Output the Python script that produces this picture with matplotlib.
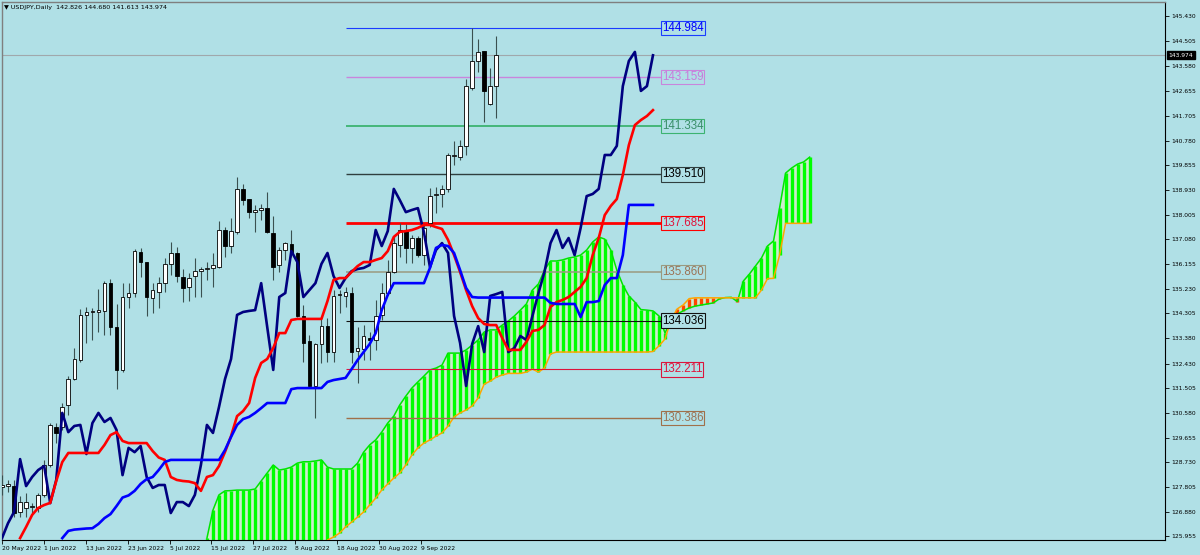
import numpy as np
import matplotlib.pyplot as plt
from matplotlib.transforms import blended_transform_factory

BG = '#b0e0e6'

title_text = "\u25bc USDJPY,Daily  142.826 144.680 141.613 143.974"
last_price = 143.974

# daily candles, oldest first
open_ = [127.80, 127.86, 127.84, 126.87, 127.02, 127.06, 127.02, 127.51, 128.63, 130.05,
         130.05, 130.87, 131.85, 132.56, 134.25, 134.36, 134.36, 134.40, 135.44, 133.80,
         132.19, 134.92, 135.07, 136.61, 136.23, 134.88, 135.11, 135.44, 136.16, 136.57,
         135.67, 135.29, 135.71, 135.89, 135.97, 136.01, 136.04, 137.43, 136.83, 137.35,
         138.97, 138.59, 138.10, 138.18, 138.25, 137.32, 136.12, 136.68, 136.90, 136.57,
         134.21, 133.27, 131.59, 133.16, 133.83, 132.86, 134.99, 134.96, 135.07, 132.90,
         132.97, 133.39, 133.31, 134.25, 135.07, 135.86, 136.87, 137.43, 136.76, 137.13,
         136.49, 137.69, 138.74, 138.78, 138.97, 140.20, 140.16, 140.58, 142.75, 143.76,
         144.13, 142.15, 142.826]
high = [128.25, 128.07, 128.07, 127.47, 127.58, 127.20, 127.58, 128.82, 130.20, 130.20,
        130.95, 131.96, 133.01, 134.47, 134.55, 134.51, 135.22, 135.52, 135.59, 134.66,
        135.44, 135.44, 136.72, 136.76, 136.23, 135.44, 135.67, 136.38, 136.98, 136.79,
        135.97, 135.82, 136.38, 136.04, 136.23, 136.57, 137.77, 137.55, 137.88, 139.41,
        139.15, 138.59, 138.37, 138.40, 138.85, 137.95, 136.79, 136.98, 137.43, 136.61,
        134.62, 133.50, 133.20, 134.17, 134.13, 135.18, 135.18, 135.29, 135.29, 133.80,
        133.87, 133.61, 134.81, 135.44, 136.31, 137.24, 137.69, 137.65, 137.24, 137.20,
        137.69, 139.00, 139.04, 139.12, 140.31, 140.76, 140.80, 143.08, 144.984, 144.58,
        144.13, 143.50, 144.680]
low = [127.50, 127.62, 126.68, 126.68, 126.68, 126.83, 126.87, 127.43, 128.55, 129.45,
       129.94, 130.50, 131.81, 132.49, 133.20, 133.31, 133.61, 133.50, 133.50, 131.47,
       132.11, 134.51, 134.92, 135.67, 134.21, 134.32, 134.51, 135.11, 135.74, 135.48,
       134.73, 134.77, 134.92, 134.92, 135.56, 135.29, 136.01, 136.42, 136.57, 137.28,
       138.37, 137.88, 137.35, 137.80, 137.32, 135.56, 135.86, 136.31, 136.42, 134.17,
       132.49, 131.55, 130.39, 132.45, 132.49, 132.49, 134.32, 134.55, 132.45, 131.70,
       132.56, 132.56, 132.94, 134.06, 134.99, 135.82, 136.42, 136.19, 136.19, 136.42,
       136.12, 137.54, 138.07, 138.29, 138.85, 139.86, 140.05, 140.24, 142.67, 143.35,
       141.47, 142.11, 141.613]
close = [127.88, 127.88, 126.83, 127.24, 127.24, 127.09, 127.51, 128.63, 130.13, 129.83,
         130.80, 131.85, 132.60, 134.25, 134.36, 134.40, 134.43, 135.44, 133.80, 132.19,
         134.92, 135.07, 136.64, 136.23, 134.92, 135.18, 135.44, 136.16, 136.57, 135.71,
         135.26, 135.63, 135.89, 135.97, 136.01, 136.12, 137.43, 136.83, 137.39, 138.97,
         138.55, 138.10, 138.18, 138.25, 137.35, 136.04, 136.68, 136.94, 136.57, 134.21,
         133.20, 131.59, 133.16, 133.83, 132.86, 134.96, 135.03, 135.11, 132.86, 133.01,
         133.46, 133.31, 134.21, 135.07, 135.86, 136.94, 137.43, 136.76, 137.13, 136.49,
         137.51, 138.70, 138.78, 138.97, 140.24, 140.24, 140.58, 142.82, 143.76, 144.10,
         142.64, 142.82, 143.974]

# navy line: closes from before the visible window, then the closes above
navy_pre = [125.89, 126.45, 126.87, 128.85, 127.84, 128.18, 128.44, 128.59, 127.20, 128.07,
            130.58, 129.86, 130.09, 130.13, 129.04, 130.20, 130.58, 130.24, 130.39, 129.94,
            128.25, 129.27, 129.11, 129.34, 128.18, 127.77]

red_start = 3
red_line = [125.89, 126.31, 126.76, 127.02, 127.13, 127.21, 128.03, 128.74, 129.08, 129.08,
            129.08, 129.08, 129.08, 129.08, 129.38, 129.75, 129.86, 129.53, 129.45, 129.45,
            129.45, 129.45, 129.15, 128.91, 128.82, 128.18, 128.07, 128.03, 128.01, 127.95,
            127.66, 128.18, 128.25, 128.59, 129.12, 129.71, 130.46, 130.65, 130.95, 131.89,
            132.45, 132.60, 133.01, 133.57, 133.57, 134.06, 134.10, 134.10, 134.10, 134.10,
            134.10, 134.77, 135.56, 135.63, 135.63, 135.86, 136.08, 136.23, 136.23, 136.31,
            136.38, 136.64, 137.17, 137.36, 137.39, 137.43, 137.51, 137.62, 137.62, 137.54,
            137.47, 137.06, 136.49, 135.86, 135.18, 134.58, 134.13, 133.91, 133.87, 133.87,
            133.38, 132.94, 132.94, 132.94, 133.24, 133.65, 133.69, 133.87, 134.55, 134.73,
            134.81, 134.92, 135.11, 135.30, 135.63, 136.49, 137.13, 137.99, 138.33, 138.59,
            139.49, 140.61, 141.36, 141.55, 141.70, 141.92]

blue_start = 10
blue_line = [125.89, 126.16, 126.21, 126.23, 126.25, 126.26, 126.42, 126.64, 126.79, 127.09,
             127.41, 127.49, 127.66, 127.92, 128.10, 128.18, 128.44, 128.74, 128.82, 128.82,
             128.82, 128.82, 128.82, 128.82, 128.82, 128.82, 128.82, 129.19, 129.68, 130.13,
             130.35, 130.43, 130.58, 130.76, 130.95, 130.95, 130.95, 130.95, 131.47, 131.51,
             131.51, 131.51, 131.51, 131.51, 131.74, 131.81, 131.85, 131.89, 132.22, 132.56,
             132.86, 133.16, 133.57, 134.43, 135.00, 135.44, 135.44, 135.44, 135.44, 135.44,
             135.44, 136.01, 136.76, 136.87, 136.83, 136.57, 135.93, 135.26, 134.92, 134.90,
             134.90, 134.90, 134.90, 134.90, 134.90, 134.90, 134.90, 134.90, 134.90, 134.90,
             134.90, 134.70, 134.66, 134.66, 134.66, 134.66, 134.17, 134.73, 134.73, 134.77,
             135.37, 135.63, 135.63, 136.49, 138.37, 138.37, 138.37, 138.37, 138.37]

cloud_start = 34
span_a = [125.89, 126.94, 127.51, 127.66, 127.67, 127.69, 127.69, 127.69, 127.73, 128.03,
          128.33, 128.63, 128.44, 128.48, 128.55, 128.70, 128.75, 128.75, 128.78, 128.82,
          128.55, 128.48, 128.48, 128.48, 128.48, 128.70, 129.11, 129.38, 129.57, 129.86,
          130.20, 130.46, 130.88, 131.21, 131.51, 131.74, 131.96, 132.19, 132.26, 132.37,
          132.82, 132.82, 132.82, 132.94, 133.12, 133.31, 133.61, 133.69, 133.69, 133.87,
          134.02, 134.21, 134.43, 134.66, 135.18, 135.41, 135.93, 136.27, 136.27, 136.31,
          136.38, 136.42, 136.49, 136.68, 136.98, 137.17, 137.09, 136.68, 135.93, 135.37,
          134.96, 134.73, 134.45, 134.43, 134.40, 134.21, 133.57, 134.06, 134.28, 134.40,
          134.51, 134.58, 134.62, 134.66, 134.70, 134.85, 134.90, 134.91, 134.75, 135.52,
          135.78, 136.08, 136.38, 136.83, 137.02, 138.25, 139.56, 139.75, 139.90, 139.98,
          140.16]
span_b = [125.0, 125.0, 125.0, 125.0, 125.0, 125.0, 125.0, 125.0, 125.0, 125.0,
          125.0, 125.0, 125.0, 125.0, 125.0, 125.0, 125.0, 125.0, 125.0, 125.0,
          125.82, 125.93, 126.08, 126.31, 126.49, 126.68, 126.87, 127.13, 127.39, 127.69,
          127.92, 128.14, 128.33, 128.63, 129.00, 129.27, 129.45, 129.57, 129.71, 129.83,
          130.09, 130.43, 130.58, 130.69, 130.84, 131.14, 131.66, 131.77, 131.92, 132.00,
          132.06, 132.06, 132.06, 132.11, 132.22, 132.11, 132.26, 132.79, 132.86, 132.86,
          132.86, 132.86, 132.86, 132.86, 132.86, 132.86, 132.86, 132.86, 132.86, 132.86,
          132.86, 132.86, 132.86, 132.86, 132.88, 133.09, 133.35, 134.06, 134.47, 134.62,
          134.86, 134.89, 134.89, 134.89, 134.89, 134.89, 134.89, 134.89, 134.89, 134.89,
          134.89, 134.89, 135.18, 135.61, 135.62, 136.49, 137.68, 137.68, 137.68, 137.68,
          137.68]

levels = [144.984, 143.159, 141.334, 139.510, 137.685, 135.860, 134.036, 132.211, 130.386]
level_colors = ['#1a3cff', '#c985dc', '#3cb371', '#2f3f3f', '#ff0000',
                '#9a9a80', '#111111', '#dc143c', '#a0704a']
level_text_colors = ['#0000ff', '#c77ddb', '#3a8f6a', '#000000', '#e0143c',
                     '#9b7356', '#000000', '#e0143c', '#9b7356']
level_widths = [0.8, 1.0, 1.3, 1.0, 2.0, 1.1, 0.8, 0.8, 1.0]

price_ticks = [145.430, 144.505, 143.580, 142.655, 141.705, 140.780, 139.855, 138.930,
               138.005, 137.080, 136.155, 135.230, 134.305, 133.380, 132.430, 131.505,
               130.580, 129.655, 128.730, 127.805, 126.880, 125.955]
date_labels = ['20 May 2022', '1 Jun 2022', '13 Jun 2022', '23 Jun 2022', '5 Jul 2022',
               '15 Jul 2022', '27 Jul 2022', '8 Aug 2022', '18 Aug 2022', '30 Aug 2022',
               '9 Sep 2022']

fig = plt.figure(figsize=(12, 5.55), dpi=100, facecolor=BG)
ax = fig.add_axes([2 / 1200, 15 / 555, 1163 / 1200, 538 / 555])
ax.set_facecolor(BG)
ax.set_xlim(0.08, 192.95)
ax.set_ylim(125.82, 145.97)

# cloud, hatched bar by bar
xc = np.arange(cloud_start, cloud_start + len(span_a))
a = np.array(span_a)
b = np.array(span_b)
ax.fill_between(xc, a, b, color='#cdeccd', lw=0, zorder=1)
up = a >= b
ax.vlines(xc[up], b[up], a[up], color='#00ff00', lw=2.4, zorder=1.2)
ax.vlines(xc[~up], a[~up], b[~up], color='#ff4500', lw=2.4, zorder=1.2)
ax.plot(xc, a, color='#00e600', lw=1.1, zorder=1.4)
ax.plot(xc, b, color='#ffa500', lw=1.1, zorder=1.4)

# levels with their price tags
for lv, col, tcol, w in zip(levels, level_colors, level_text_colors, level_widths):
    ax.hlines(lv, 57, 109.3, color=col, lw=w, zorder=2)
    ax.text(109.45, lv, f"{lv:.3f}", ha='left', va='center', color=tcol, fontsize=8.3,
            family='Liberation Sans', zorder=6,
            bbox=dict(boxstyle='square,pad=0.1', fc=BG, ec=col, lw=0.8))

ax.axhline(last_price, color='#a0a8ac', lw=0.8, zorder=1.5)

# candles
xs = np.arange(len(close))
o = np.array(open_)
c = np.array(close)
ax.vlines(xs, low, high, color='#3a5050', lw=0.8, zorder=3)
body = np.where(np.abs(c - o) < 0.05, 0.05, c - o)
bull = c >= o
ax.bar(xs[bull], body[bull], bottom=o[bull], width=0.6, color='white',
       edgecolor='black', lw=0.6, zorder=3.2)
ax.bar(xs[~bull], body[~bull], bottom=o[~bull], width=0.6, color='black',
       edgecolor='black', lw=0.6, zorder=3.2)

# indicator lines
navy = navy_pre + close
ax.plot(np.arange(len(navy)), navy, color='#000080', lw=1.9, zorder=4)
ax.plot(np.arange(red_start, red_start + len(red_line)), red_line, color='#ff0000', lw=1.9, zorder=4)
ax.plot(np.arange(blue_start, blue_start + len(blue_line)), blue_line, color='#0000ff', lw=1.9, zorder=4)

# axes styling
for side in ['left', 'top']:
    ax.spines[side].set_color('#7f7f7f')
    ax.spines[side].set_linewidth(1.0)
for side in ['right', 'bottom']:
    ax.spines[side].set_color('black')
    ax.spines[side].set_linewidth(0.8)

ax.yaxis.tick_right()
ax.set_yticks(price_ticks)
ax.set_yticklabels([f"{t:.3f}" for t in price_ticks])
ax.tick_params(axis='y', length=3, width=0.6, labelsize=4.3, pad=1.5, colors='black')
ax.set_xticks(np.arange(len(date_labels)) * 6.95)
ax.set_xticklabels(date_labels, ha='left')
ax.tick_params(axis='x', length=3, width=0.6, labelsize=4.3, pad=1.5, colors='black')

trans = blended_transform_factory(ax.transAxes, ax.transData)
ax.text(1.003, last_price, f"{last_price:.3f}", transform=trans, color='white',
        fontsize=4.3, ha='left', va='center', clip_on=False, zorder=7,
        bbox=dict(boxstyle='square,pad=0.25', fc='black', ec='black'))

fig.text(4 / 1200, 1 - 8 / 555, title_text, fontsize=4.6, va='center', ha='left')

fig.savefig('out.png', dpi=100, facecolor=BG)
